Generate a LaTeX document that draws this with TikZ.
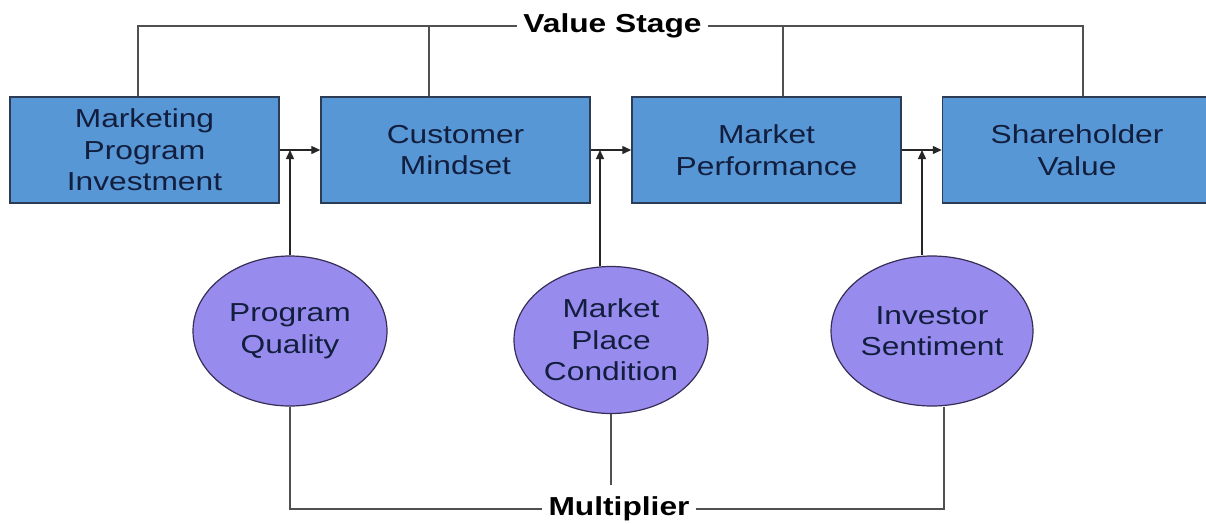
\documentclass[tikz,border=0pt]{standalone}
\usepackage{fontspec}
\setmainfont{Liberation Sans}[FakeStretch=1.22]
\usepackage{tikz}
\usetikzlibrary{shapes.geometric}
\usetikzlibrary{positioning}
\usetikzlibrary{arrows.meta}
\usepackage{xcolor}
\definecolor{boxblue}{RGB}{88,151,213}
\definecolor{boxline}{RGB}{45,60,85}
\definecolor{navytext}{RGB}{18,30,62}
\definecolor{lavender}{RGB}{152,139,238}
\definecolor{ovalline}{RGB}{55,45,85}
\definecolor{linkgray}{RGB}{80,80,80}

\begin{document}
\begin{tikzpicture}[x=1pt,y=-1pt,
    stagebox/.style={draw=boxline, line width=1.5pt, fill=boxblue, rectangle, align=center,
        minimum width=269pt, minimum height=106pt, text=navytext,
        font=\fontsize{26}{31.5}\selectfont},
    factor/.style={draw=ovalline, line width=1.2pt, fill=lavender, ellipse, align=center,
        minimum width=194pt, minimum height=150pt, inner sep=0pt, text=navytext,
        font=\fontsize{26}{31.5}\selectfont},
    tag/.style={inner xsep=6pt, inner ysep=12pt, font=\fontsize{26}{31.5}\selectfont\bfseries},
    link/.style={draw=linkgray, line width=2pt},
    flow/.style={draw=black!85, line width=1.4pt, -{Triangle[length=9pt,width=8pt]}}]
    \useasboundingbox (0,0) rectangle (1206,523);

    % Value chain stages
    \node[stagebox] (invest) at (144.5,150) {Marketing\\Program\\Investment};
    \node[stagebox] (mindset) at (455.5,150) {Customer\\Mindset};
    \node[stagebox] (perform) at (766.5,150) {Market\\Performance};
    \node[stagebox] (value) at (1077,150) {Shareholder\\Value};

    % Multiplier factors
    \node[factor] (quality) at (290,331) {Program\\Quality};
    \node[factor, minimum height=147pt] (place) at (611,340) {Market\\Place\\Condition};
    \node[factor, minimum width=195pt] (investor) at (932,331) {Investor\\Sentiment};

    % Group labels
    \node[tag] (stagelbl) at (612.5,26) {Value Stage};
    \node[tag] (multlbl) at (619,509) {Multiplier};

    % Stage to stage
    \draw[flow] (invest.east) -- (mindset.west);
    \draw[flow] (mindset.east) -- (perform.west);
    \draw[flow] (perform.east) -- (value.west);

    % Factors feeding the links
    \draw[flow] (quality.north) -- (quality.north |- invest.east);
    \draw[flow] ([xshift=-11pt]place.north) -- ([xshift=-11pt]place.north |- mindset.east);
    \draw[flow] ([xshift=-10pt]investor.north) -- ([xshift=-10pt]investor.north |- perform.east);

    % Value stage bracket
    \draw[link] ([xshift=-6.5pt]invest.north) -- ([xshift=-6.5pt]invest.north |- stagelbl.west) -- (stagelbl.west);
    \draw[link] ([xshift=-26.5pt]mindset.north) -- ([xshift=-26.5pt]mindset.north |- stagelbl.west);
    \draw[link] ([xshift=16.5pt]perform.north) -- ([xshift=16.5pt]perform.north |- stagelbl.east);
    \draw[link] (stagelbl.east) -- ([xshift=6pt]value.north |- stagelbl.east) -- ([xshift=6pt]value.north);

    % Multiplier bracket
    \draw[link] (quality.south) -- (quality.south |- multlbl.west) -- (multlbl.west);
    \draw[link] (place.south) -- (place.south |- multlbl.north);
    \draw[link] (multlbl.east) -- ([xshift=12pt]investor.south |- multlbl.east) -- ([xshift=12pt]investor.south);
\end{tikzpicture}
\end{document}
